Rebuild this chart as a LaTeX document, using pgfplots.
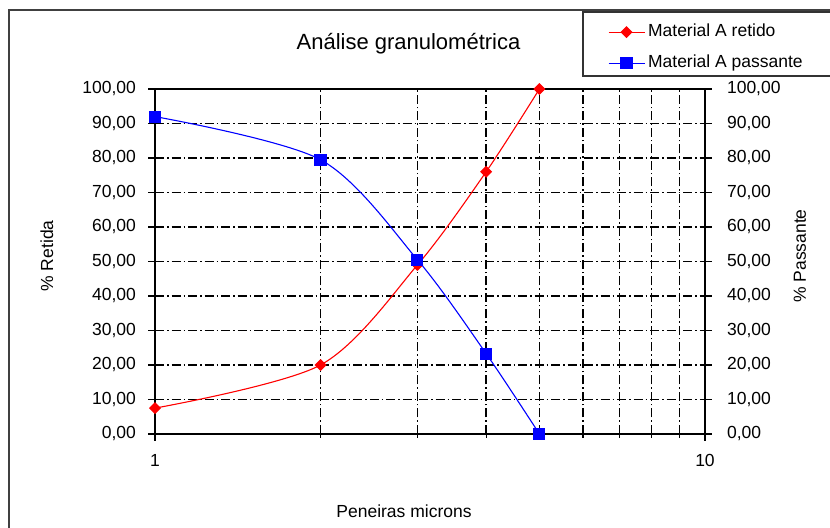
\documentclass[border=0pt]{standalone}
\usepackage{fontspec}
\setmainfont{Liberation Sans}
\usepackage{pgfplots}
\pgfplotsset{compat=1.18}
\newcommand\fs{\fontsize{8.75pt}{10.5pt}\selectfont}
\begin{document}
\begin{tikzpicture}
\path[use as bounding box] (0,0) rectangle (415pt,264pt);
\fill[white] (0,0) rectangle (415pt,264pt);
\draw[line width=0.8pt, color=black!75] (4.5pt,-20pt) -- (4.5pt,259pt) -- (440pt,259pt);
\begin{axis}[
  at={(77.5pt,47pt)}, anchor=south west, scale only axis,
  width=275pt, height=172.5pt,
  xmode=log, xmin=1, xmax=10, ymin=0, ymax=100,
  xtick={1,10}, xticklabels={1,10}, minor xtick={2,3,4,5,6,7,8,9},
  ytick={0,10,...,100},
  grid=both,
  major grid style={black, line width=0.65pt, dash pattern=on 4.5pt off 1.5pt on 0.75pt off 1.5pt},
  minor grid style={black, line width=0.65pt, dash pattern=on 4.5pt off 1.5pt on 0.75pt off 1.5pt},
  axis line style={black, line width=0.7pt},
  xtick pos=bottom, ytick pos=left,
  tick align=outside,
  major tick length=3.5pt, minor tick length=2pt,
  tick style={black, line width=0.6pt},
  /pgf/number format/assume math mode=true,
  tick label style={font=\fs, black},
  xticklabel style={yshift=-3pt},
  yticklabel style={xshift=-2.5pt, /pgf/number format/.cd, fixed, fixed zerofill, precision=2, use comma, 1000 sep={}},
  label style={font=\fs},
  xlabel={Peneiras microns},
  xlabel style={at={(0.4527,-0.2406)}, anchor=base},
  ylabel={\% Retida},
  ylabel style={at={(-0.1964,0.516)}, anchor=center},
  legend style={draw=none, fill=none, at={(0.8236,1.12)}, anchor=west,
    inner sep=0pt, outer sep=0pt, row sep=7pt, column sep=1.5pt, font=\fs,
    nodes={inner sep=0pt, text height=6.5pt, text depth=2pt, anchor=west}},
  legend cell align=left,
  legend image code/.code={\draw[mark repeat=2, mark phase=2, #1] plot coordinates {(0pt,0pt) (9pt,0pt) (18pt,0pt)};},
]
\addplot[red, line width=0.55pt, smooth, mark=diamond*, mark size=2.6pt,
  mark options={solid, fill=red, xscale=1.33}]
  coordinates {(1,7.5) (2,20) (3,49) (4,76) (5,100)};
\addlegendentry{Material A retido}
\addplot[blue, line width=0.55pt, smooth, mark=square*, mark size=2.75pt,
  mark options={solid, fill=blue}]
  coordinates {(1,92) (2,79.5) (3,50.5) (4,23.3) (5,0)};
\addlegendentry{Material A passante}
\end{axis}
\begin{axis}[
  at={(77.5pt,47pt)}, anchor=south west, scale only axis,
  width=275pt, height=172.5pt,
  xmode=log, xmin=1, xmax=10, ymin=0, ymax=100,
  axis line style={draw=none},
  xtick=\empty, ytick={0,10,...,100},
  ytick pos=right, yticklabel pos=right,
  tick align=outside,
  major tick length=3.5pt,
  tick style={black, line width=0.6pt},
  /pgf/number format/assume math mode=true,
  tick label style={font=\fs, black},
  yticklabel style={xshift=4pt, /pgf/number format/.cd, fixed, fixed zerofill, precision=2, use comma, 1000 sep={}},
  label style={font=\fs},
  ylabel={\% Passante},
  ylabel style={at={(1.1727,0.516)}, anchor=center, rotate=0},
]
\addplot[draw=none] coordinates {(1,0)};
\end{axis}
\draw[line width=0.65pt, color=black!80] (291.5pt,258pt) rectangle (440pt,226pt);
\node[font=\fontsize{11pt}{13pt}\selectfont, anchor=base] at (204.25pt,239pt) {Análise granulométrica};
\end{tikzpicture}
\end{document}
